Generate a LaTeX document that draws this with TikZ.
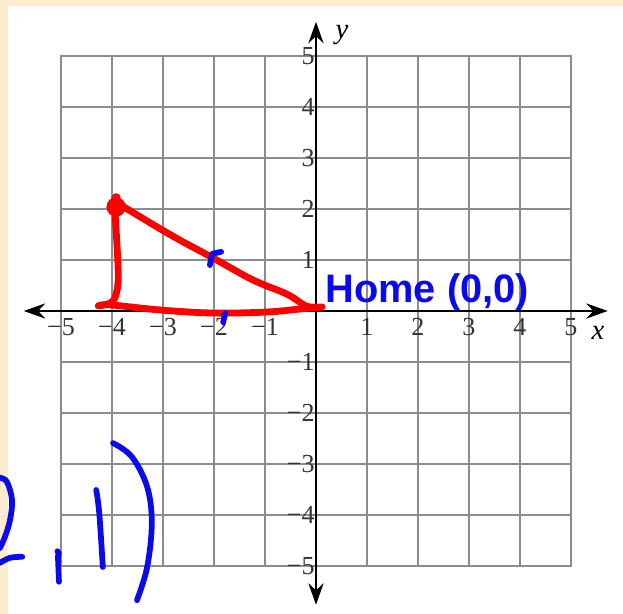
\documentclass[tikz,border=0pt]{standalone}
\usepackage{fontspec}
\setmainfont{Liberation Serif}
\newfontfamily\homefont{Liberation Sans}
\usepackage{xcolor}
\usepackage{tikz}
\usetikzlibrary{arrows.meta}

\definecolor{peach}{RGB}{253,235,208}
\definecolor{penblue}{RGB}{10,10,235}

\begin{document}
\begin{tikzpicture}[
    redpen/.style={red, line width=3.8pt, line cap=round, line join=round},
    bluepen/.style={penblue, line width=3.2pt, line cap=round, line join=round},
    ticklabel/.style={inner sep=1pt, black!80, font=\fontsize{14.5}{16}\selectfont},
    axistip/.style={line width=1.1pt, {Stealth[length=12pt,width=8.5pt,inset=4pt]}-{Stealth[length=12pt,width=8.5pt,inset=4pt]}}
]
    \useasboundingbox (-6.196,-5.941) rectangle (6.02,6.098);
    \fill[peach] (-6.196,-5.941) rectangle (6.02,6.098);
    \fill[white] (-6.04,-5.941) rectangle (6.02,5.98);

    % Grid
    \draw[step=1cm, black!45, line width=0.8pt] (-5,-5) grid (5,5);
    \draw[black!45, line width=1.3pt] (-5,-5) rectangle (5,5);

    % Axes
    \draw[axistip] (-5.73,0) -- (5.72,0);
    \draw[axistip] (0,-5.76) -- (0,5.67);
    \node[font=\fontsize{16}{18}\selectfont\itshape] (xlab) at (5.53,-0.43) {x};
    \node[font=\fontsize{16}{18}\selectfont\itshape] (ylab) at (0.51,5.41) {y};

    % Tick labels
    \foreach \x in {-5,-4,-3,-2,-1,1,2,3,4,5} {
        \node[ticklabel, anchor=north] (xt\x) at (\x,-0.1)
            {\ifnum\x<0 −\number-\x\else\x\fi};
    }
    \foreach \y in {-5,-4,-3,-2,-1,1,2,3,4,5} {
        \node[ticklabel, anchor=east, inner sep=0.6pt] (yt\y) at (0,\y)
            {\ifnum\y<0 −\number-\y\else\y\fi};
    }

    % Home label
    \node[penblue, anchor=base west, inner sep=0pt,
          font=\homefont\bfseries\fontsize{22.2}{24}\selectfont] (home) at (0.18,0.157) {Home (0,0)};

    % Red triangle
    \fill[red] (-3.92,2.04) circle (0.19);
    \fill[red] (-3.92,2.22) circle (0.09);
    \draw[redpen] plot[smooth, tension=0.6] coordinates
        {(-3.94,1.92) (-3.88,0.84) (-3.90,0.41) (-4.00,0.18) (-4.24,0.10)};
    \draw[redpen] plot[smooth, tension=0.6] coordinates
        {(-4.27,0.10) (-4.04,0.12) (-3.06,0.02) (-2.02,-0.04) (-0.96,-0.02) (-0.31,0.04) (0.12,0.08)};
    \draw[redpen] plot[smooth, tension=0.6] coordinates
        {(-3.80,2.06) (-3.12,1.65) (-2.67,1.39) (-2.02,1.04) (-1.24,0.61) (-0.57,0.33) (-0.20,0.10) (0.02,0.08)};

    % Blue marks
    \draw[bluepen] (-2.08,0.90) -- (-2.04,1.12) -- (-1.86,1.16);
    \draw[bluepen] (-1.78,-0.04) -- (-1.82,-0.22);

    % Blue handwriting
    \draw[bluepen] plot[smooth, tension=0.6] coordinates
        {(-6.20,-3.27) (-6.06,-3.35) (-5.96,-3.71) (-6.00,-4.10) (-6.10,-4.43) (-6.20,-4.65)};
    \draw[bluepen] plot[smooth, tension=0.6] coordinates
        {(-6.20,-4.94) (-6.00,-4.84) (-5.76,-4.82)};
    \draw[bluepen] (-5.07,-4.71) -- (-5.04,-4.76);
    \draw[bluepen] (-5.06,-4.80) -- (-5.04,-5.31);
    \draw[bluepen] plot[smooth, tension=0.6] coordinates
        {(-4.31,-3.51) (-4.25,-3.96) (-4.18,-5.02)};
    \draw[bluepen] plot[smooth, tension=0.6] coordinates
        {(-3.98,-2.59) (-3.61,-2.86) (-3.31,-3.45) (-3.22,-4.16) (-3.31,-5.02) (-3.51,-5.67)};
\end{tikzpicture}
\end{document}
